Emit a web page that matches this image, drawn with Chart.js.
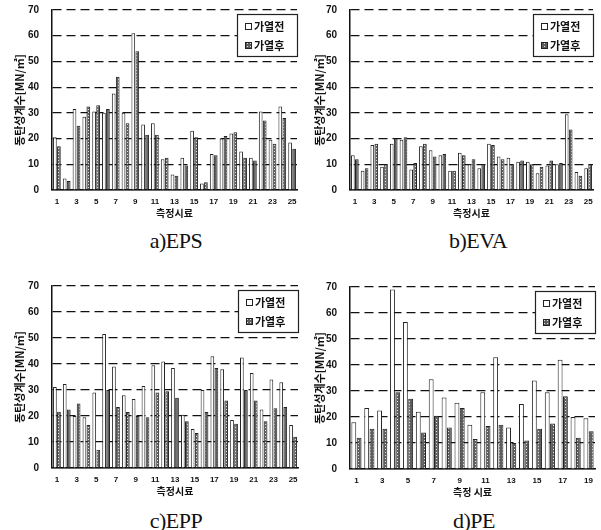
<!DOCTYPE html>
<html>
<head>
<meta charset="utf-8">
<script src="https://cdn.jsdelivr.net/npm/chart.js@4"></script>
<style>
  body { margin: 0; background: #fff; width: 601px; height: 530px; position: relative; overflow: hidden; }
  .panel { position: absolute; width: 300px; }
  .cap { position: absolute; width: 300px; text-align: center; font-family: "Liberation Serif", "DejaVu Serif", serif; font-size: 22px; letter-spacing: -0.5px; line-height: 1; color: #111; }
</style>
</head>
<body>
<div class="panel" style="left:0;top:0;height:222px"><canvas id="chartA"></canvas></div>
<div class="panel" style="left:300px;top:0;height:222px"><canvas id="chartB"></canvas></div>
<div class="panel" style="left:0;top:276px;height:224px"><canvas id="chartC"></canvas></div>
<div class="panel" style="left:300px;top:277px;height:224px"><canvas id="chartD"></canvas></div>
<div class="cap" style="left:26px;top:230px">a)EPS</div>
<div class="cap" style="left:328px;top:230px">b)EVA</div>
<div class="cap" style="left:26px;top:510px">c)EPP</div>
<div class="cap" style="left:324px;top:510px">d)PE</div>
<script>
// 측정시료 번호
const samples25 = ["1","2","3","4","5","6","7","8","9","10","11","12","13","14","15","16","17","18","19","20","21","22","23","24","25"];
const samples19 = ["1","2","3","4","5","6","7","8","9","10","11","12","13","14","15","16","17","18","19"];
const yTicks = [0, 10, 20, 30, 40, 50, 60, 70];

// a) EPS
const epsBefore = [20.5, 4.5, 31.5, 28.5, 30.5, 30, 37.5, 30, 61, 25.5, 26, 12, 6, 12.5, 23, 2.5, 14, 20, 22, 15, 12.5, 30.5, 19.5, 32.5, 18.5];
const epsAfter  = [17, 3.5, 25, 32.5, 33, 31.5, 44, 26, 54, 21.5, 21.5, 12.5, 5.5, 9.5, 20.5, 3, 13.5, 21, 22.5, 12.5, 11.5, 27, 18, 28, 16];
// b) EVA
const evaBefore = [13.5, 7.5, 17.5, 9, 18, 19.5, 8, 17, 15.5, 13.5, 7.5, 14.5, 10, 8.5, 18, 13, 12.5, 11, 11, 6.5, 9.5, 10, 29.5, 7, 8.5];
const evaAfter  = [12, 8.5, 18, 10, 20, 20.5, 10.5, 18, 13, 14, 7.5, 13.5, 12, 10, 17.5, 12, 10, 11.5, 10, 9, 11.5, 10.5, 23.5, 5.5, 10];
// c) EPP
const eppBefore = [31.2, 32.3, 20, 19.5, 29, 51.5, 39, 28, 26.5, 31.5, 39.5, 41, 38.5, 20.5, 15, 30, 43, 38, 18.5, 42.5, 36.5, 22.5, 34, 33, 16.5];
const eppAfter  = [21.6, 22.5, 24.8, 16.5, 7, 30, 23.5, 21.5, 20, 19.5, 29, 29.5, 27, 18, 13.5, 21.5, 38.5, 26, 17, 30, 26, 18, 23, 23.5, 12];
// d) PE
const peBefore = [18, 23.5, 22.5, 69, 56.5, 22, 34.5, 27.5, 25.5, 17, 29.5, 43, 16, 25, 34, 29.5, 42, 20, 19.5];
const peAfter  = [12, 15.5, 15.5, 29.5, 27, 14, 20.5, 16, 23.5, 11.5, 16.5, 17, 10, 11, 15.5, 17.5, 28, 12, 14.5];

const seriesNames = ["가열전", "가열후"];

function makePattern() {
    const c = document.createElement("canvas");
    c.width = 3; c.height = 3;
    const g = c.getContext("2d");
    g.fillStyle = "#5e5e5e";
    g.fillRect(0, 0, 3, 3);
    g.fillStyle = "#e0e0e0";
    g.fillRect(1, 1, 1, 1);
    return g.createPattern(c, "repeat");
}
const hatch = makePattern();

// 차트 안쪽 오른쪽 위 테두리 범례
const boxLegend = {
    id: "boxLegend",
    afterDatasetsDraw(chart) {
        const ctx = chart.ctx;
        const area = chart.chartArea;
        const w = 61, h = 43;
        const x = area.right - w + 1, y = area.top + 4;
        ctx.save();
        ctx.fillStyle = "#fff";
        ctx.fillRect(x, y, w, h);
        ctx.strokeStyle = "#222";
        ctx.lineWidth = 1.2;
        ctx.strokeRect(x + 0.5, y + 0.5, w - 1, h - 1);
        ctx.font = "bold 11px 'Noto Sans CJK KR', sans-serif";
        ctx.textBaseline = "middle";
        chart.data.datasets.forEach((ds, i) => {
            const cy = y + 13 + i * 19;
            ctx.fillStyle = ds.backgroundColor;
            ctx.fillRect(x + 8, cy - 4, 7, 7);
            ctx.strokeStyle = "#222";
            ctx.lineWidth = 1;
            ctx.strokeRect(x + 8.5, cy - 3.5, 6, 6);
            ctx.fillStyle = "#111";
            ctx.fillText(ds.label, x + 17, cy);
        });
        ctx.restore();
    }
};

function makeChart(id, labels, before, after, xTitle, padRight, yWidth) {
    new Chart(document.getElementById(id), {
        type: "bar",
        data: {
            labels: labels,
            datasets: [
                { label: seriesNames[0], data: before, backgroundColor: "#ffffff", borderColor: "#222", borderWidth: 1 },
                { label: seriesNames[1], data: after, backgroundColor: hatch, borderColor: "#222", borderWidth: 1 }
            ]
        },
        options: {
            responsive: true,
            maintainAspectRatio: false,
            animation: false,
            categoryPercentage: 0.82,
            barPercentage: 0.92,
            layout: { autoPadding: false, padding: { left: 0, top: 10, right: padRight, bottom: 0 } },
            plugins: { legend: { display: false }, tooltip: { enabled: false } },
            scales: {
                x: {
                    grid: { display: false, drawTicks: false },
                    border: { display: true, color: "#111", width: 1.5 },
                    ticks: {
                        autoSkip: false,
                        maxRotation: 0,
                        padding: 7,
                        color: "#111",
                        font: { family: "'Liberation Sans', Arial, sans-serif", size: 8, weight: "bold" },
                        callback: function (v, i) { return i % 2 === 0 ? this.getLabelForValue(v) : ""; }
                    },
                    title: {
                        display: true,
                        text: xTitle,
                        color: "#111",
                        padding: { top: 0, bottom: 3 },
                        font: { family: "'Noto Sans CJK KR', sans-serif", size: 10, weight: "bold" }
                    },
                    afterFit: s => { s.height = 32; s.paddingLeft = 0; s.paddingRight = 0; }
                },
                y: {
                    min: 0,
                    max: 70,
                    afterBuildTicks: s => { s.ticks = yTicks.map(v => ({ value: v })); },
                    grid: {
                        color: "#111",
                        lineWidth: 1.2,
                        drawTicks: false
                    },
                    border: {
                        display: true,
                        color: "#111",
                        width: 1.5,
                        dash: c => (c.tick && c.tick.value === 0 ? [] : [9, 5])
                    },
                    ticks: {
                        padding: 13,
                        color: "#111",
                        font: { family: "'Liberation Sans', Arial, sans-serif", size: 10, weight: "bold" }
                    },
                    title: {
                        display: true,
                        text: "동탄성계수[MN/㎡]",
                        color: "#111",
                        padding: { top: 13, bottom: 0 },
                        font: { family: "'Noto Sans CJK KR', sans-serif", size: 11, weight: "bold" }
                    },
                    afterFit: s => { s.width = yWidth; s.paddingTop = 0; s.paddingBottom = 0; }
                }
            }
        },
        plugins: [boxLegend]
    });
}

makeChart("chartA", samples25, epsBefore, epsAfter, "측정시료", 3, 52);
makeChart("chartB", samples25, evaBefore, evaAfter, "측정시료", 7, 50);
makeChart("chartC", samples25, eppBefore, eppAfter, "측정시료", 2, 52);
makeChart("chartD", samples19, peBefore, peAfter, "측정 시료", 5, 50);
</script>
</body>
</html>
